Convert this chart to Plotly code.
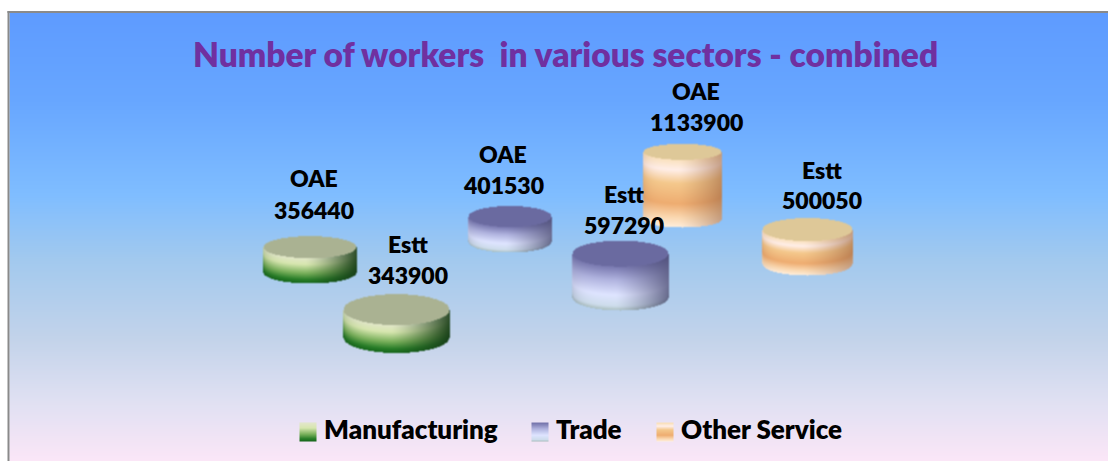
import numpy as np
import plotly.graph_objects as go

TITLE = "Number of workers  in various sectors - combined"
SECTORS = ["Manufacturing", "Trade", "Other Service"]
GROUPS = ["OAE", "Estt"]
MANUFACTURING = [356440, 343900]
TRADE = [401530, 597290]
OTHER_SERVICE = [1133900, 500050]
SERIES = [MANUFACTURING, TRADE, OTHER_SERVICE]

# pseudo-3D stage: (centre x, base-centre y, radius x, radius y) per sector and group
STAGE = [
    [(309.5, 272, 46.5, 11), (396, 337, 53, 15.5)],
    [(509.5, 241.5, 41.5, 10.5), (620, 297, 48, 13)],
    [(682, 219, 39, 8), (807, 263.5, 45, 11.5)],
]
HEIGHT_PER_WORKER = 1.53e-6
LABEL_POS = [
    [(314, 178, 210), (408, 244, 275)],
    [(503, 154, 185), (624, 194, 225)],
    [(696, 91, 122), (822, 170, 200)],
]
TOP_COLOR = [(170, 178, 146), (106, 106, 160), (222, 200, 152)]
SIDE_STOPS = [
    [(0, (225, 230, 200)), (.25, (215, 230, 175)), (.6, (120, 175, 90)), (.85, (40, 125, 40)), (1, (20, 100, 25))],
    [(0, (120, 120, 175)), (.3, (175, 178, 222)), (.65, (222, 228, 255)), (.9, (205, 220, 235)), (1, (170, 190, 190))],
    [(0, (250, 225, 190)), (.15, (255, 238, 232)), (.35, (244, 200, 140)), (.65, (238, 172, 112)),
     (.85, (250, 215, 175)), (1, (255, 238, 220))],
]
EDGE_DARK = [(25, 60, 25), (70, 70, 110), (150, 95, 60)]
EDGE_STRENGTH = [0.9, 0.75, 0.55]
BG_STOPS = [(13, (94, 155, 255)), (100, (103, 166, 255)), (195, (127, 189, 255)), (260, (162, 201, 238)),
            (340, (195, 211, 234)), (400, (223, 224, 242)), (461, (251, 230, 247))]
BG_LEFT = 9.5
W, H = 1108, 461
FONT = "Lato, Carlito, Calibri, sans-serif"


def ramp(stops, t):
    pos = [s[0] for s in stops]
    return np.stack([np.interp(t, pos, [s[1][i] for s in stops]) for i in range(3)], axis=-1)


def blur(a, n=1):
    for _ in range(n):
        a = (np.roll(a, 1, 0) + 2 * a + np.roll(a, -1, 0)) / 4
        a = (np.roll(a, 1, 1) + 2 * a + np.roll(a, -1, 1)) / 4
    return a


def cylinder(cx, base, rx, ry, value, top_rgb, stops, dark, strength):
    h = value * HEIGHT_PER_WORKER * rx
    top = base - h
    x0, y0 = int(cx - rx - 5), int(top - ry - 5)
    xs = np.arange(x0, int(cx + rx + 6))
    ys = np.arange(y0, int(base + ry + 6))
    X, Y = np.meshgrid(xs, ys)
    u = (X - cx) / rx
    arc = ry * np.sqrt(np.clip(1 - u ** 2, 0, 1))
    v = np.clip((Y - (top + arc)) / h, 0, 1)
    rgb = ramp(stops, v)
    shade = (strength * np.clip((u + 0.1) / 1.1, 0, 1) ** 1.3 + 0.18 * np.clip(-u, 0, 1) ** 6)[..., None]
    rgb = rgb * (1 - shade) + np.array(dark) * shade
    in_top = ((X - cx) / rx) ** 2 + ((Y - top) / ry) ** 2 <= 1
    rgb[in_top] = top_rgb
    inside = in_top | ((np.abs(u) <= 1) & (Y >= top) & (Y <= base + arc))
    alpha = inside.astype(float)
    pm = blur(rgb * alpha[..., None])
    al = blur(alpha)
    col = pm / np.maximum(al, 1e-3)[..., None]
    z = np.dstack([np.round(np.clip(col, 0, 255)), np.round(al, 3)])
    return z.tolist(), float(xs[0]), float(ys[0])


def swatch(stops, n=19, w=17):
    t = np.linspace(0, 1, n)
    c = np.round(ramp(stops, t))
    return np.repeat(c[:, None, :], w, axis=1).tolist()


fig = go.Figure()

# background gradient, one column wide and stretched across the chart area
rows = np.arange(BG_STOPS[0][0], H + 1) + 0.5
bg = np.round(ramp(BG_STOPS, rows))[:, None, :].tolist()
fig.add_trace(go.Image(z=bg, x0=(BG_LEFT + W) / 2, dx=W - BG_LEFT, y0=float(rows[0]), dy=1,
                       name="background", hoverinfo="skip"))

# paint back to front so nearer cylinders overlap farther ones
order = sorted(((s, g) for s in range(3) for g in range(2)), key=lambda k: STAGE[k[0]][k[1]][1])
for s, g in order:
    cx, base, rx, ry = STAGE[s][g]
    z, xa, ya = cylinder(cx, base, rx, ry, SERIES[s][g], TOP_COLOR[s], SIDE_STOPS[s], EDGE_DARK[s], EDGE_STRENGTH[s])
    fig.add_trace(go.Image(z=z, colormodel="rgba", x0=xa, y0=ya, dx=1, dy=1,
                           name=f"{SECTORS[s]} {GROUPS[g]}", hoverinfo="skip"))

ann = []
for s in range(3):
    for g in range(2):
        lx, y1, y2 = LABEL_POS[s][g]
        for txt, yy in ((GROUPS[g], y1), (str(SERIES[s][g]), y2)):
            ann.append(dict(x=lx, y=yy, text=txt, showarrow=False, xanchor="center",
                            yanchor="middle", font=dict(family=FONT, size=23, color="#000000", weight=800)))

ann.append(dict(x=565, y=54, text=TITLE.replace("  ", " &nbsp;"), showarrow=False,
                xanchor="center", yanchor="middle", font=dict(family=FONT, size=33.5, color="#7030A0", weight=800)))

# legend
LEG_SWATCH_X = [300, 532, 657]
LEG_TEXT_X = [322, 554, 679]
for s in range(3):
    fig.add_trace(go.Image(z=swatch(SIDE_STOPS[s]), x0=LEG_SWATCH_X[s], y0=423, dx=1, dy=1,
                           name=SECTORS[s], hoverinfo="skip"))
    ann.append(dict(x=LEG_TEXT_X[s], y=429, text=SECTORS[s], showarrow=False,
                    xanchor="left", yanchor="middle", font=dict(family=FONT, size=26, color="#000000", weight=800)))

fig.update_layout(
    width=W, height=H, margin=dict(l=0, r=0, t=0, b=0),
    paper_bgcolor="white", plot_bgcolor="white", showlegend=False,
    xaxis=dict(range=[0, W], visible=False, fixedrange=True, constrain="domain"),
    yaxis=dict(range=[H, 0], visible=False, fixedrange=True),
    annotations=ann,
    shapes=[
        dict(type="line", x0=BG_LEFT - 1, x1=BG_LEFT - 1, y0=11, y1=H, line=dict(color="#8A8A8A", width=2)),
        dict(type="line", x0=BG_LEFT - 2, x1=W, y0=12, y1=12, line=dict(color="#8A8A8A", width=2)),
    ],
)
fig.write_html("out.html", config={"displayModeBar": False},
               post_script="document.body.style.margin='0';document.body.style.overflow='hidden';")
